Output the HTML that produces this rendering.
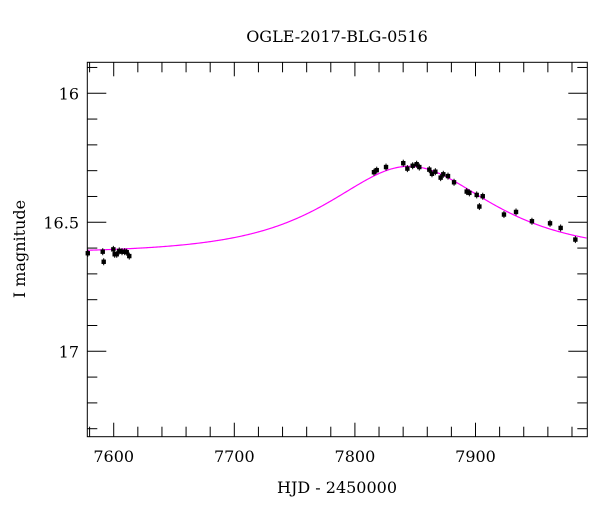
<!DOCTYPE html>
<html><head><meta charset="utf-8"><style>
body{margin:0;background:#fff}
svg text{font-family:"DejaVu Serif","Liberation Serif",serif;fill:#000}
</style></head><body>
<svg id="chart" width="600" height="512" xmlns="http://www.w3.org/2000/svg">
<rect width="600" height="512" fill="#fff"/>
<text x="337" y="42" font-size="16" text-anchor="middle">OGLE-2017-BLG-0516</text>
<text x="337" y="493" font-size="16" text-anchor="middle">HJD - 2450000</text>
<text transform="translate(25,249) rotate(-90)" font-size="16" text-anchor="middle">I magnitude</text>
<g id="ticks"></g><g id="curve"></g><g id="points"></g>
<rect x="87.3" y="62.3" width="500" height="374.4" fill="none" stroke="#000" stroke-width="1"/>
</svg>
<script>
const days=[7578.5,7590.9,7591.7,7599.7,7600.8,7602.5,7604.6,7606.9,7609.1,7610.8,7612.9,7815.8,7818.1,7825.8,7840.1,7843.5,7847.9,7851.2,7853.4,7861.7,7863.9,7866.7,7871.1,7873.3,7877.2,7882.2,7892.7,7894.9,7901.0,7903.2,7906.0,7923.6,7933.6,7946.8,7961.8,7970.6,7982.8];
const mags=[16.62,16.614,16.653,16.605,16.624,16.624,16.611,16.614,16.614,16.616,16.631,16.306,16.298,16.286,16.271,16.292,16.281,16.275,16.286,16.296,16.312,16.304,16.327,16.314,16.321,16.345,16.381,16.386,16.394,16.439,16.399,16.470,16.460,16.496,16.504,16.522,16.567];
const xTicks=[7600,7700,7800,7900];
const xTickLabels=["7600","7700","7800","7900"];
const yTicks=[16,16.5,17];
const yTickLabels=["16","16.5","17"];
const model={t0:7845,u0:0.97,tE:81,Ibase:16.62};
const X0=87.3,X1=587.3,Y0=62.3,Y1=436.7,D0=7578.1,D1=7992.7,M0=15.88,M1=17.331;
const xs=d=>X0+(d-D0)/(D1-D0)*(X1-X0);
const ys=m=>Y0+(m-M0)/(M1-M0)*(Y1-Y0);
const NS="http://www.w3.org/2000/svg";
function mk(t,a,p){const e=document.createElementNS(NS,t);for(const k in a)e.setAttribute(k,a[k]);p.appendChild(e);return e;}
const tg=document.getElementById('ticks');
for(let d=7580;d<=7990;d+=20){const x=xs(d);const maj=d%100===0;const L=maj?14:10;
 const t1=mk('line',{x1:x,y1:Y1,x2:x,y2:Y1-L,stroke:'#000'},tg);
 
 
 const t2=mk('line',{x1:x,y1:Y0,x2:x,y2:Y0+L,stroke:'#000'},tg);
 
 }
for(let i=0;i<=14;i++){const m=15.9+i*0.1;if(m>17.33)break;const y=ys(m);const maj=Math.abs(m*2-Math.round(m*2))<1e-6;const L=maj?19:10;
 const t1=mk('line',{x1:X0,y1:y,x2:X0+L,y2:y,stroke:'#000'},tg);
 
 
 const t2=mk('line',{x1:X1,y1:y,x2:X1-L,y2:y,stroke:'#000'},tg);
 
 }
xTicks.forEach((v,i)=>{const t=mk('text',{x:xs(v),y:462,'font-size':16,'text-anchor':'middle'},tg);t.textContent=xTickLabels[i];
 
 });
yTicks.forEach((v,i)=>{const t=mk('text',{x:79,y:ys(v)+6,'font-size':16,'text-anchor':'end'},tg);t.textContent=yTickLabels[i];
 
 });
let pts=[];for(let d=D0;d<=D1;d+=1){const tau=(d-model.t0)/model.tE;const u=Math.sqrt(model.u0*model.u0+tau*tau);const A=(u*u+2)/(u*Math.sqrt(u*u+4));const m=model.Ibase-2.5*Math.log10(A);pts.push(xs(d).toFixed(2)+','+ys(m).toFixed(2));}
const pl=mk('polyline',{points:pts.join(' '),fill:'none',stroke:'#ff00ff','stroke-width':1.2},document.getElementById('curve'));


const pg=document.getElementById('points');
days.forEach((d,i)=>{const x=xs(d),y=ys(mags[i]);
 const e=mk('line',{x1:x,y1:y-3.5,x2:x,y2:y+3.5,stroke:'#000','stroke-width':1},pg);
 
 
 const r=mk('rect',{x:x-2.2,y:y-2.2,width:4.4,height:4.4,fill:'#000'},pg);
 
 });
</script>
</body></html>
